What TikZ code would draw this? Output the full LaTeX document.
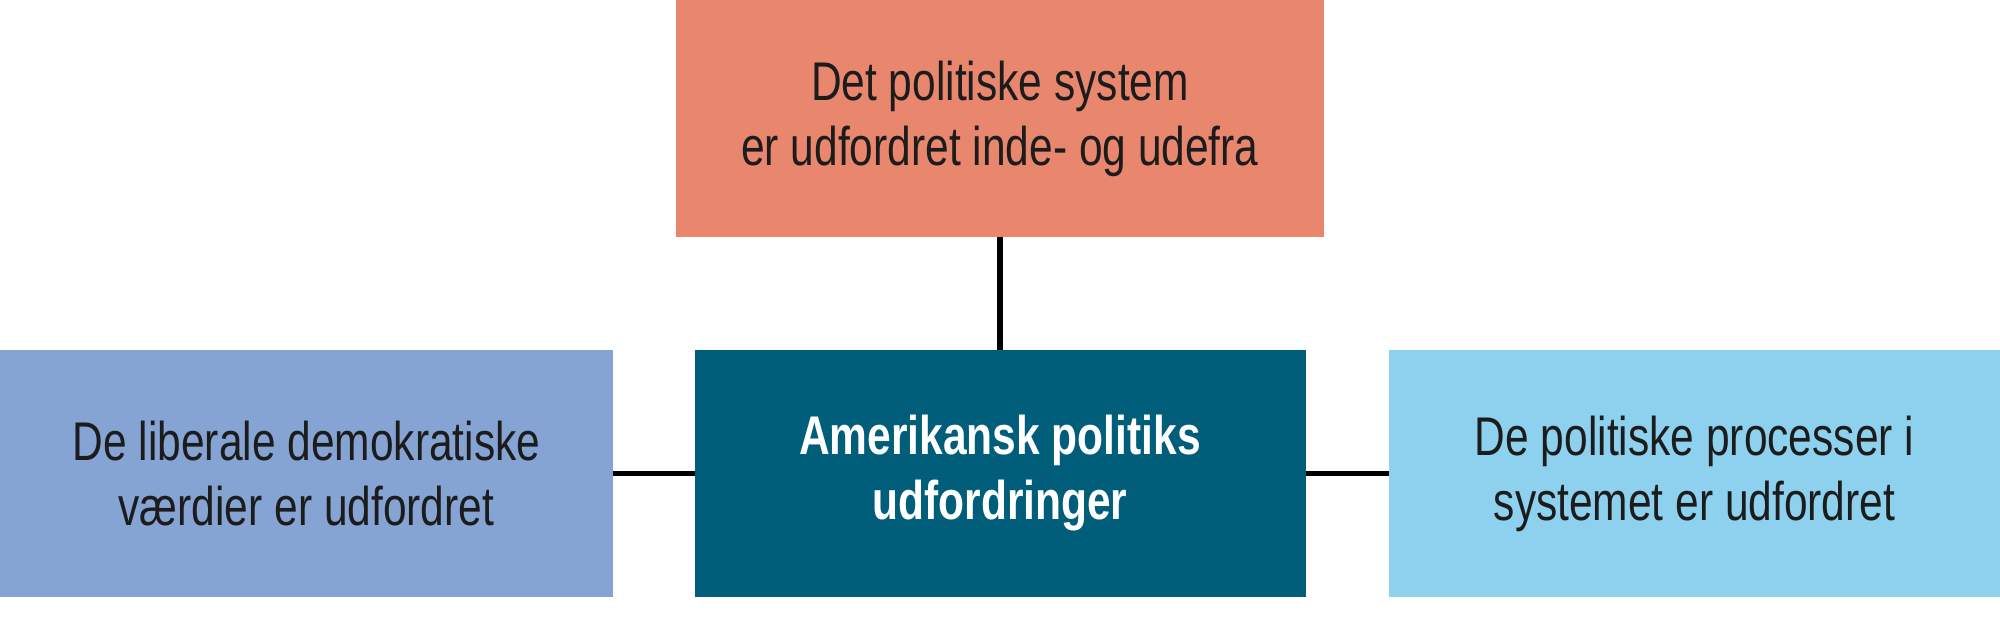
\documentclass[tikz,border=0pt]{standalone}
\usepackage{fontspec}
\setmainfont[FakeStretch=0.78]{Liberation Sans}
\usepackage{xcolor}
\usetikzlibrary{positioning}
\definecolor{laks}{HTML}{E8866E}
\definecolor{petrol}{HTML}{005E7A}
\definecolor{duebla}{HTML}{85A4D3}
\definecolor{lysebla}{HTML}{8DD1EF}
\definecolor{tekst}{HTML}{1C1C1C}

\begin{document}
\begin{tikzpicture}[node distance=0.82cm,
	boks/.style={inner sep=0pt, outer sep=0pt, minimum width=6.12cm, minimum height=2.47cm, align=center, text=tekst, font=\fontsize{15.5}{18.5}\selectfont}]
				\useasboundingbox (0,0) rectangle (20,6.39);
				\node[boks, fill=petrol, text=white, minimum width=6.11cm, font=\fontsize{15.5}{18.5}\selectfont\bfseries] (midt) at (10,1.655) {Amerikansk politiks\\udfordringer};
				\node[boks, fill=laks, minimum width=6.48cm, minimum height=2.37cm, above=1.13cm of midt] (top) {Det politiske system\\er udfordret inde- og udefra};
				\node[boks, fill=duebla, left=of midt] (venstre) {De liberale demokratiske\\værdier er udfordret};
				\node[boks, fill=lysebla, right=0.83cm of midt] (hoejre) {De politiske processer i\\systemet er udfordret};

				\draw[line width=1.6pt] (top) -- (midt);
				\draw[line width=1.6pt] (venstre) -- (midt);
				\draw[line width=1.6pt] (midt) -- (hoejre);
			\end{tikzpicture}
\end{document}
